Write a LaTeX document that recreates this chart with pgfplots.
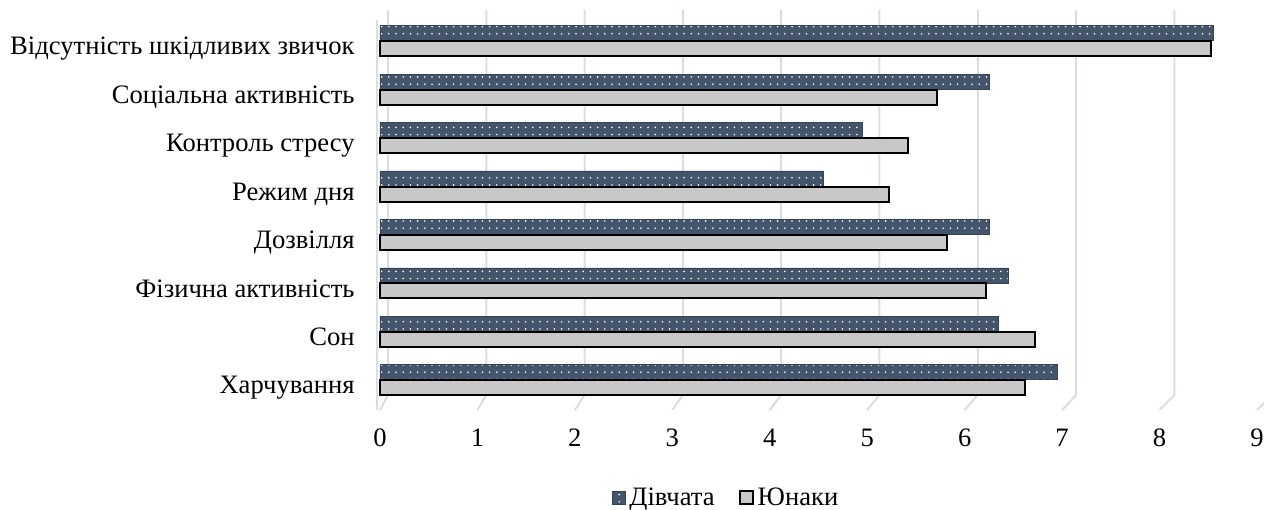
\documentclass[border=0pt]{standalone}
\usepackage{fontspec}
\setmainfont{Liberation Serif}
\usepackage{pgfplots}
\pgfplotsset{compat=1.18}
\usetikzlibrary{patterns.meta}
\definecolor{girls}{RGB}{68,84,106}
\definecolor{boys}{RGB}{200,200,200}
\definecolor{gridc}{RGB}{217,221,230}

\begin{document}
\begin{tikzpicture}
\path[use as bounding box] (-190pt,-57pt) rectangle (442pt,197.5pt);
\begin{axis}[
    at={(0,0)}, anchor=south west,
    scale only axis,
    width=438.5pt, height=192.5pt,
    xmin=0, xmax=9,
    ymin=-0.31, ymax=7.64,
    xbar, bar width=7.5pt,
    clip=false,
    axis line style={draw=none},
    major tick length=0pt,
    xtick={0,...,9},
    ytick={0,...,7},
    yticklabels={Харчування, Сон, Фізична активність, Дозвілля, Режим дня, Контроль стресу, Соціальна активність, Відсутність шкідливих звичок},
    /pgf/number format/assume math mode=true,
    ticklabel style={font=\fontsize{13.3}{15}\selectfont},
    xticklabel style={anchor=center, yshift=-21.5pt},
    yticklabel style={anchor=base east, inner sep=0pt, xshift=-12.5pt, yshift=-7pt},
    legend style={draw=none, at={(axis description cs:0.3957,-0.2675)}, anchor=center,
        font=\fontsize{13.3}{15}\selectfont, legend columns=2,
        /tikz/every even column/.style={column sep=10pt}},
    legend image code/.code={\draw[#1] (0pt,-3.25pt) rectangle (6.5pt,3.25pt);},
]
% gridlines (back wall with slanted floor part)
\draw[gridc, line width=1pt] (axis cs:-0.03,7.44) -- (axis cs:-0.03,-0.62);
\pgfplotsinvokeforeach{0,...,9}{
  \draw[gridc, line width=1pt] (axis cs:{0.082+1.0088*#1},7.64) -- (axis cs:{0.082+1.0088*#1},-0.31) -- (axis cs:#1,-0.62);
}
% Дівчата
\addplot[fill=girls, draw=girls!80!black, line width=0.3pt, bar shift=3.9pt,
    postaction={pattern={Dots[distance=3.6pt, radius=0.45pt]}, pattern color=white}]
  coordinates {(6.95,0) (6.35,1) (6.45,2) (6.25,3) (4.55,4) (4.95,5) (6.25,6) (8.55,7)};
\addlegendentry{Дівчата}
% Юнаки
\addplot[fill=boys, draw=black, line width=1pt, bar shift=-3.9pt]
  coordinates {(6.62,0) (6.72,1) (6.22,2) (5.82,3) (5.22,4) (5.42,5) (5.72,6) (8.53,7)};
\addlegendentry{Юнаки}
\end{axis}
\end{tikzpicture}
\end{document}
